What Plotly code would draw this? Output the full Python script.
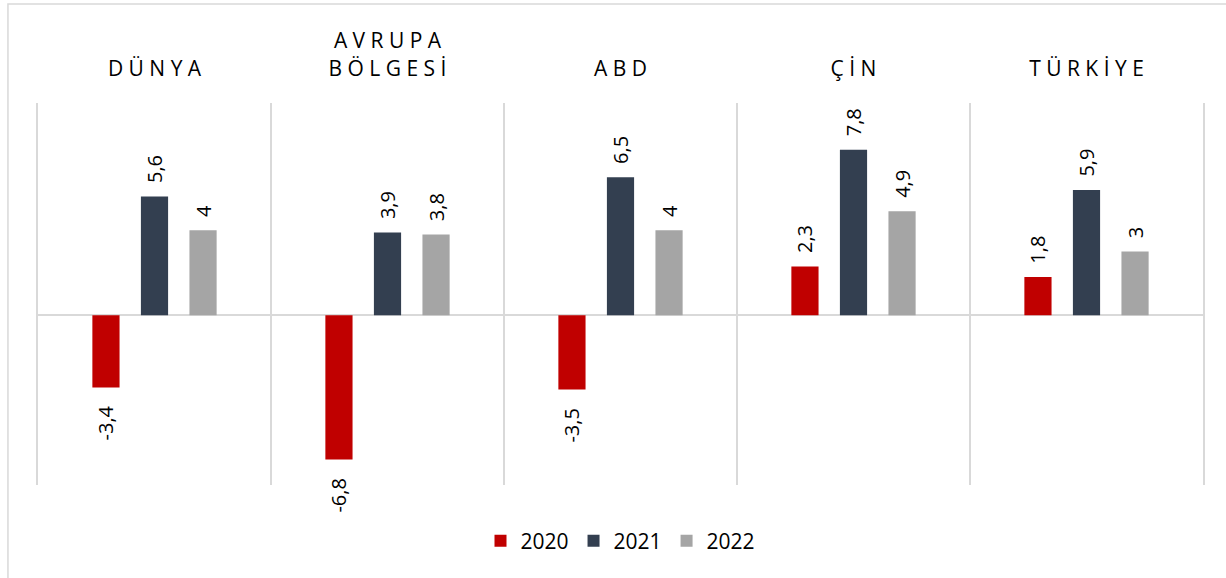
import plotly.graph_objects as go

categories = ["D Ü N Y A", "A V R U P A<br>B Ö L G E S İ", "A B D", "Ç İ N", "T Ü R K İ Y E"]
years = ["2020", "2021", "2022"]
v2020 = [-3.4, -6.8, -3.5, 2.3, 1.8]
v2021 = [5.6, 3.9, 6.5, 7.8, 5.9]
v2022 = [4.0, 3.8, 4.0, 4.9, 3.0]
colors = ["#C00000", "#333F50", "#A5A5A5"]

NB = "\u00a0"


def label(v):
    s = f"{v:g}".replace(".", ",")
    return (NB * 2 + s) if v >= 0 else (s + NB * 3)


fig = go.Figure()
for name, vals, col in zip(years, [v2020, v2021, v2022], colors):
    fig.add_trace(go.Bar(
        x=categories, y=vals, name=name,
        marker=dict(color=col, line=dict(width=0)),
        text=[label(v) for v in vals],
        textposition="outside", textangle=-90,
        constraintext="none", cliponaxis=False,
        outsidetextfont=dict(family="Open Sans", size=20, color="#000000"),
    ))

fig.update_layout(
    width=1226, height=578,
    margin=dict(l=38, r=23, t=103, b=93),
    paper_bgcolor="white", plot_bgcolor="white",
    barmode="group", bargap=0.375, bargroupgap=0.44,
    font=dict(family="Open Sans", color="#000000"),
    showlegend=True,
    legend=dict(orientation="h", x=0.5, xanchor="center", y=-0.147, yanchor="middle",
                font=dict(size=21, color="#000000"), traceorder="normal"),
    xaxis=dict(type="category", side="top", tickson="boundaries", showgrid=True,
               gridcolor="#D9D9D9", gridwidth=2, ticks="", showline=False, zeroline=False,
               tickfont=dict(size=21, color="#000000"), ticklabelstandoff=22),
    yaxis=dict(range=[-8, 10], showgrid=False, showticklabels=False, zeroline=True,
               zerolinecolor="#D9D9D9", zerolinewidth=2, ticks="",
               showline=True, mirror=True, linecolor="#D9D9D9", linewidth=2),
    shapes=[dict(type="rect", xref="paper", yref="paper", x0=-0.0258, x1=1.2,
                 y0=-0.5, y1=1.259, line=dict(color="#D9D9D9", width=1.5),
                 fillcolor="rgba(0,0,0,0)", layer="below")],
)

fig.write_html("out.html", config={"displayModeBar": False},
               post_script="document.body.style.margin='0';")
